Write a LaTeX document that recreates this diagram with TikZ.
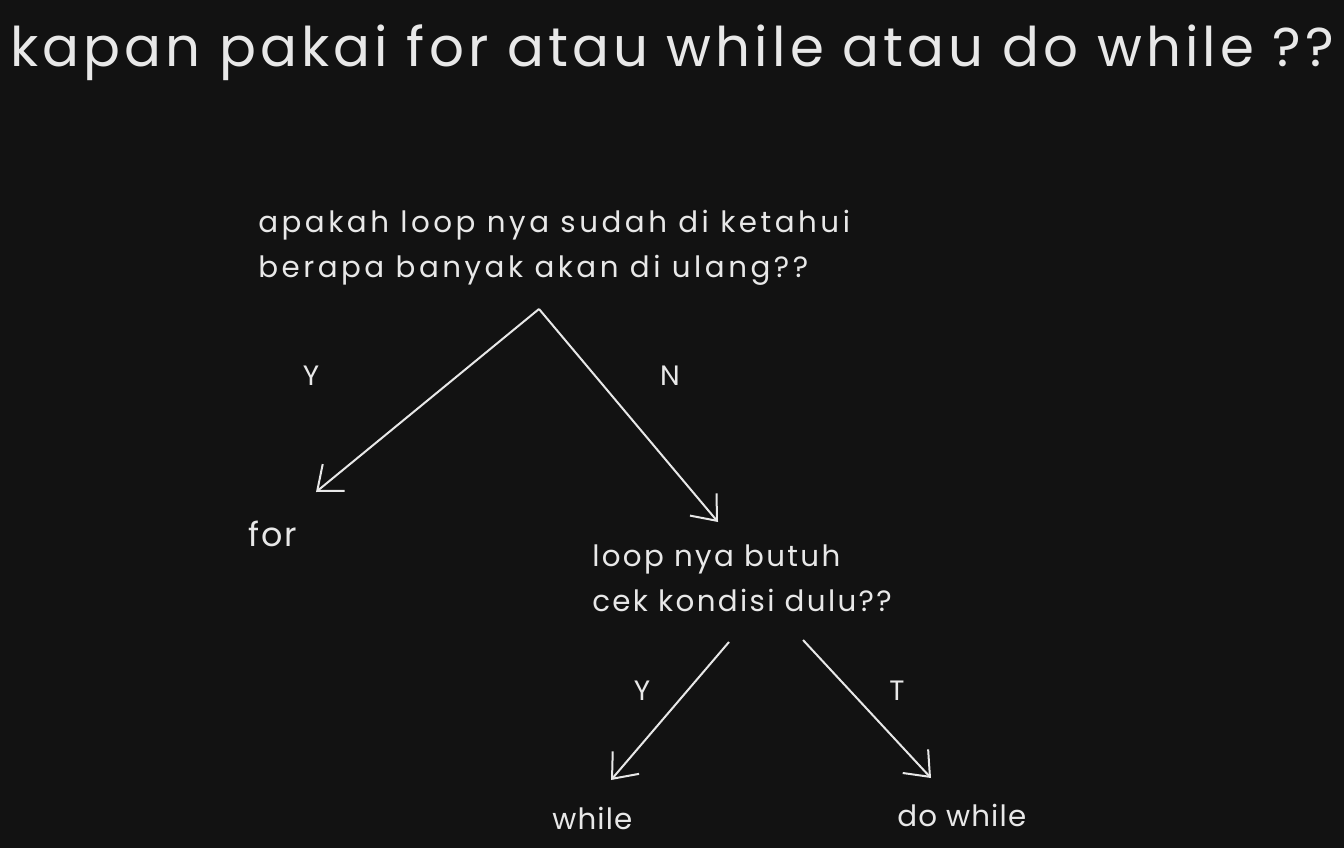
\documentclass[tikz,border=0pt]{standalone}
\usepackage{fontspec}
\setmainfont{Poppins}
\newfontfamily\wideA[LetterSpace=7.5]{Poppins}
\newfontfamily\wideB[LetterSpace=12]{Poppins}
\newfontfamily\wideC[LetterSpace=8]{Poppins}
\newfontfamily\wideD[LetterSpace=4]{Poppins}
\newfontfamily\wideE[LetterSpace=6]{Poppins}
\usetikzlibrary{arrows.meta}
\definecolor{bg}{HTML}{121212}
\definecolor{ink}{HTML}{E8E8E8}
\begin{document}
\begin{tikzpicture}[x=0.75pt,y=-0.75pt,
  txt/.style={text=ink, inner sep=0pt, anchor=base west},
  ptxt/.style={text=ink, inner sep=0pt, anchor=north west, align=left},
  lbl/.style={text=ink, inner sep=0pt, anchor=base, font=\fontsize{21}{24}\selectfont},
  arr/.style={draw=ink, line width=1.5pt, -{Straight Barb[length=16pt,width=26pt,line width=1.5pt]}}]
\fill[bg] (0,0) rectangle (1344,848);
\useasboundingbox (0,0) rectangle (1344,848);
\node[txt, font=\wideA\fontsize{41}{49}\selectfont] (title) at (10,67) {kapan pakai for atau while atau do while ??};
\node[ptxt, font=\wideB\fontsize{22}{33.75}\selectfont] (q1) at (258,210) {apakah loop nya sudah di ketahui\\berapa banyak akan di ulang??};
\node[ptxt, font=\wideC\fontsize{22}{33.75}\selectfont] (q2) at (592,545) {loop nya butuh\\cek kondisi dulu??};
\node[txt, font=\wideE\fontsize{25}{30}\selectfont] (for) at (248,546) {for};
\node[txt, font=\wideD\fontsize{22}{26}\selectfont] (wh) at (552,829) {while};
\node[txt, font=\wideD\fontsize{22}{26}\selectfont] (dw) at (897,826) {do while};
\node[lbl] (y1) at (311,385) {Y};
\node[lbl] (n1) at (670,385) {N};
\node[lbl] (y2) at (642,700) {Y};
\node[lbl] (t2) at (897,700) {T};
\coordinate (s1) at (539,309);
\coordinate (e1) at (316,492);
\coordinate (e2) at (718,522);
\coordinate (s3) at (729,642);
\coordinate (e3) at (611,780);
\coordinate (s4) at (803,640);
\coordinate (e4) at (931,778);
\draw[arr] (s1) -- (e1);
\draw[arr] (s1) -- (e2);
\draw[arr] (s3) -- (e3);
\draw[arr] (s4) -- (e4);
\end{tikzpicture}
\end{document}
